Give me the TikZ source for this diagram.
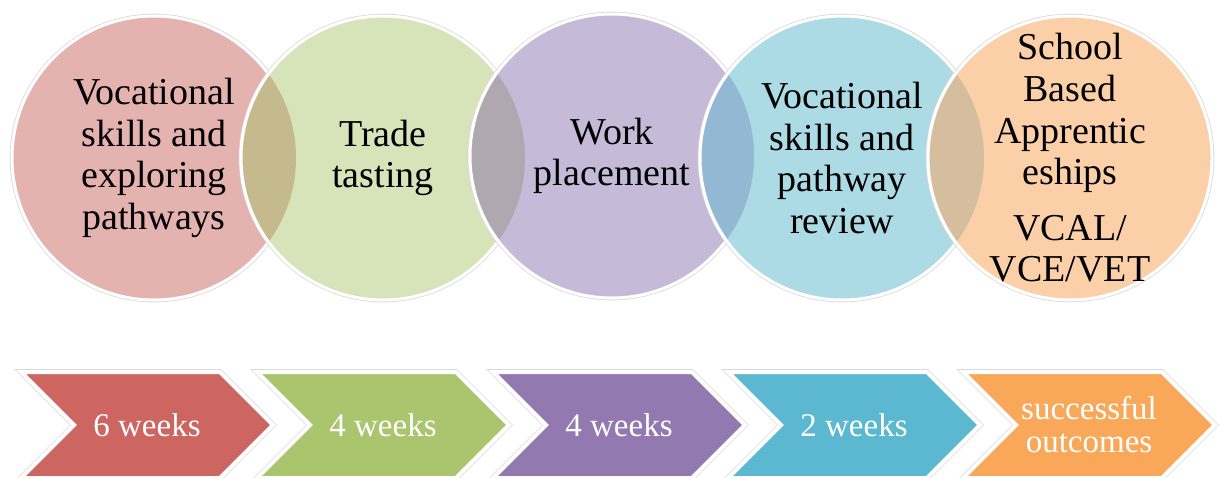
\documentclass[tikz,border=0pt]{standalone}
\usepackage{fontspec}
\setmainfont{Liberation Serif}
\usepackage{tikz}
\usetikzlibrary{shapes.symbols}

\definecolor{pinkc}{HTML}{E5B3AF}
\definecolor{greenc}{HTML}{D7E3B9}
\definecolor{lilacc}{HTML}{C5BBD9}
\definecolor{bluec}{HTML}{ACDBE5}
\definecolor{peachc}{HTML}{FBD0A9}
\definecolor{lensa}{HTML}{C5BA8D}
\definecolor{lensb}{HTML}{B0A8B0}
\definecolor{lensc}{HTML}{92B8D3}
\definecolor{lensd}{HTML}{D5BE9D}
\definecolor{redarr}{HTML}{CD6660}
\definecolor{greenarr}{HTML}{ABC46E}
\definecolor{purparr}{HTML}{9279B0}
\definecolor{bluearr}{HTML}{5BB8D0}
\definecolor{orangearr}{HTML}{F9A85A}

\begin{document}
\begin{tikzpicture}[x=0.5pt,y=0.5pt,
	bubble/.style={circle,minimum size=142pt,inner sep=-20pt,align=center,draw=white,line width=1.5pt,
		preaction={draw=gray!30,line width=2.3pt},font=\fontsize{19}{20.8}\selectfont},
	stage/.style={signal,signal from=west,signal to=east,signal pointer angle=90,minimum width=126pt,
		minimum height=53pt,inner sep=0pt,align=center,draw=white,line width=2pt,text=white,
		preaction={draw=gray!30,line width=2.8pt},font=\fontsize{16.5}{16.5}\selectfont},
	rim/.style={draw=white,line width=1.5pt}]
	\useasboundingbox (0,0) rectangle (1224,-477);
	% circles
	\node[bubble,fill=pinkc] (c_1) at (154,-158) {Vocational\\skills and\\exploring\\pathways};
	\node[bubble,fill=greenc] (c_2) at (383,-158) {Trade\\tasting};
	\node[bubble,fill=lilacc] (c_3) at (612,-156) {Work\\placement};
	\node[bubble,fill=bluec] (c_4) at (842,-158) {Vocational\\skills and\\pathway\\review};
	\node[bubble,fill=peachc] (c_5) at (1070,-158) {School\\Based\\Apprentic\\eships\\[7pt]VCAL/\\VCE/VET};
	% overlaps
	\begin{scope}
		\clip (c_1.center) circle (71pt);
		\fill[lensa] (c_2.center) circle (71pt);
		\draw[rim] (c_2.center) circle (71pt);
	\end{scope}
	\begin{scope}
		\clip (c_2.center) circle (71pt);
		\fill[lensb] (c_3.center) circle (71pt);
		\draw[rim] (c_3.center) circle (71pt);
	\end{scope}
	\begin{scope}
		\clip (c_3.center) circle (71pt);
		\fill[lensc] (c_4.center) circle (71pt);
		\draw[rim] (c_4.center) circle (71pt);
	\end{scope}
	\begin{scope}
		\clip (c_4.center) circle (71pt);
		\fill[lensd] (c_5.center) circle (71pt);
		\draw[rim] (c_5.center) circle (71pt);
	\end{scope}
	% timeline
	\node[stage,fill=redarr] (s_1) at (147,-425) {6 weeks};
	\node[stage,fill=greenarr] (s_2) at (383,-425) {4 weeks};
	\node[stage,fill=purparr] (s_3) at (619,-425) {4 weeks};
	\node[stage,fill=bluearr] (s_4) at (854,-425) {2 weeks};
	\node[stage,fill=orangearr] (s_5) at (1089,-425) {successful\\outcomes};
\end{tikzpicture}
\end{document}
